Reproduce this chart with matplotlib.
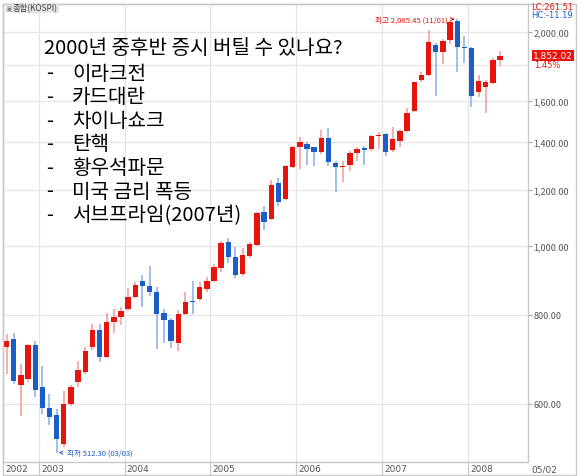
import numpy as np
import matplotlib
matplotlib.use('Agg')
import matplotlib.pyplot as plt
from matplotlib.patches import Rectangle
from matplotlib.ticker import FixedLocator, NullFormatter, NullLocator

plt.rcParams['font.family'] = ['Noto Sans CJK KR', 'DejaVu Sans']

# monthly KOSPI candles, Aug 2002 .. May 2008
months = ['2002-08', '2002-09', '2002-10', '2002-11', '2002-12',
          '2003-01', '2003-02', '2003-03', '2003-04', '2003-05', '2003-06',
          '2003-07', '2003-08', '2003-09', '2003-10', '2003-11', '2003-12',
          '2004-01', '2004-02', '2004-03', '2004-04', '2004-05', '2004-06',
          '2004-07', '2004-08', '2004-09', '2004-10', '2004-11', '2004-12',
          '2005-01', '2005-02', '2005-03', '2005-04', '2005-05', '2005-06',
          '2005-07', '2005-08', '2005-09', '2005-10', '2005-11', '2005-12',
          '2006-01', '2006-02', '2006-03', '2006-04', '2006-05', '2006-06',
          '2006-07', '2006-08', '2006-09', '2006-10', '2006-11', '2006-12',
          '2007-01', '2007-02', '2007-03', '2007-04', '2007-05', '2007-06',
          '2007-07', '2007-08', '2007-09', '2007-10', '2007-11', '2007-12',
          '2008-01', '2008-02', '2008-03', '2008-04', '2008-05']
opens = [721, 740, 637, 651, 726,
         633, 592, 579, 527, 600, 644, 666, 721, 763, 698, 783, 796,
         816, 849, 892, 878, 862, 805, 786, 731, 803, 838, 843, 871,
         894, 931, 1014, 964, 914, 968, 1004, 1116, 1092, 1227, 1165, 1291,
         1380, 1392, 1377, 1358, 1419, 1308, 1292, 1300, 1352, 1372, 1369, 1430,
         1438, 1365, 1407, 1453, 1550, 1712, 1743, 1917, 1876, 1946, 2070, 1907,
         1897, 1645, 1675, 1696, 1828]
highs = [752, 755, 683, 728, 736,
         679, 620, 590, 626, 638, 690, 721, 777, 776, 805, 816, 822,
         873, 891, 911, 939, 877, 816, 792, 813, 862, 894, 891, 904,
         944, 1018, 1026, 996, 993, 1013, 1116, 1138, 1240, 1246, 1300, 1384,
         1425, 1402, 1380, 1458, 1464, 1318, 1318, 1361, 1380, 1384, 1433, 1446,
         1443, 1469, 1461, 1562, 1703, 1755, 2013, 1930, 1955, 2075, 2085.45, 1972,
         1905, 1740, 1712, 1839, 1880]
lows = [661, 640, 577, 643, 614,
        581, 561, 512.3, 522, 595, 633, 661, 714, 688, 695, 755, 775,
        810, 845, 820, 852, 717, 730, 718, 713, 800, 803, 838, 861,
        891, 919, 946, 902, 909, 961, 1000, 1054, 1088, 1138, 1160, 1288,
        1284, 1300, 1297, 1347, 1296, 1193, 1230, 1277, 1318, 1302, 1361, 1369,
        1340, 1354, 1377, 1447, 1545, 1703, 1735, 1628, 1803, 1925, 1760, 1809,
        1567, 1621, 1537, 1690, 1793]
closes = [736, 647, 659, 725, 628,
          592, 575, 535, 600, 633, 670, 713, 761, 698, 783, 796, 811,
          849, 883, 880, 861, 803, 786, 735, 803, 835, 834, 875, 894,
          934, 1010, 966, 912, 970, 1008, 1112, 1082, 1219, 1155, 1297, 1380,
          1399, 1369, 1358, 1419, 1314, 1293, 1297, 1352, 1369, 1365, 1430, 1434,
          1358, 1415, 1453, 1539, 1699, 1740, 1934, 1873, 1944, 2065, 1907, 1897,
          1624, 1708, 1703, 1827, 1852.02]

price_ticks = [600, 800, 1000, 1200, 1400, 1600, 2000]
grid_levels = [600, 800, 1000, 1200, 1400, 1600, 1800, 2000]
years = ['2002', '2003', '2004', '2005', '2006', '2007', '2008']

title = '2000년 중후반 증시 버틸 수 있나요?'
events = ['이라크전', '카드대란', '차이나쇼크', '탄핵', '황우석파문', '미국 금리 폭등', '서브프라임(2007년)']

up_col = '#e5140d'
dn_col = '#1b5ec8'
up_wick = '#f29a96'
dn_wick = '#86aee6'
txt_gray = '#555555'
line_gray = '#c8c8c8'

W, H = 580, 477
fig = plt.figure(figsize=(W / 100, H / 100), dpi=100)
ax = fig.add_axes([3 / W, 14 / H, 525 / W, 458 / H])

x = np.arange(len(months))
o = np.array(opens, float)
h = np.array(highs, float)
l = np.array(lows, float)
c = np.array(closes, float)
up = c >= o

# year boundaries (index of January minus half a slot)
year_idx = [months.index(y + '-01') - 0.5 for y in years[1:]]

for yv in grid_levels:
    ax.axhline(yv, color='#e6e6e6', lw=0.9, zorder=0)
for xv in year_idx:
    ax.axvline(xv, color='#e6e6e6', lw=0.9, zorder=0)

ax.vlines(x[up], l[up], h[up], color=up_wick, lw=1.1, zorder=2)
ax.vlines(x[~up], l[~up], h[~up], color=dn_wick, lw=1.1, zorder=2)
bottom = np.minimum(o, c)
height = np.maximum(np.abs(c - o), bottom * 0.003)
ax.bar(x[up], height[up], bottom=bottom[up], width=0.75, color=up_col, zorder=3)
ax.bar(x[~up], height[~up], bottom=bottom[~up], width=0.75, color=dn_col, zorder=3)

ax.set_yscale('log')
ax.set_ylim(497, 2190)
ax.set_xlim(-0.5, 72.9)
ax.yaxis.set_major_locator(FixedLocator(price_ticks))
ax.yaxis.set_minor_locator(NullLocator())
ax.yaxis.set_minor_formatter(NullFormatter())
ax.set_yticklabels([f'{v:,.2f}' for v in price_ticks])
ax.yaxis.tick_right()
ax.tick_params(axis='y', direction='out', length=3, width=0.8, color='#aaaaaa',
               labelsize=6.5, labelcolor=txt_gray, pad=1)
ax.set_xticks([])
for sp in ax.spines.values():
    sp.set_color(line_gray)
    sp.set_linewidth(1.0)

# x label strip
for i, yr in enumerate(years):
    xv = -0.5 if i == 0 else year_idx[i - 1]
    ax.text(xv + 0.3, -0.004, yr, transform=ax.get_xaxis_transform(),
            ha='left', va='top', fontsize=6.5, color=txt_gray, family='DejaVu Sans')
    if i > 0:
        ax.plot([xv, xv], [0, -12 / 458], transform=ax.get_xaxis_transform(),
                color=line_gray, lw=0.9, clip_on=False)
fig.text(531 / W, 1 - 470 / H, '05/02', fontsize=6.5, color=txt_gray,
         va='center', ha='left', family='DejaVu Sans')
fig.add_artist(Rectangle((3 / W, 1 / H), 573 / W, 471 / H, fill=False,
                         edgecolor=line_gray, lw=1.0, transform=fig.transFigure))

# min / max annotations
imax = int(np.argmax(h))
imin = int(np.argmin(l))
ax.annotate(f'최고 {h[imax]:,.2f} ({months[imax][5:]}/01)', xy=(imax - 0.4, h[imax]),
            xytext=(imax - 1.3, h[imax]), ha='right', va='center', fontsize=5.5,
            color=up_col, arrowprops=dict(arrowstyle='->', color=up_col, lw=0.7))
ax.annotate(f'최저 {l[imin]:,.2f} ({months[imin][2:4]}/{months[imin][5:]})',
            xy=(imin + 0.3, l[imin]), xytext=(imin + 1.4, l[imin]), ha='left',
            va='center', fontsize=5.5, color=dn_col,
            arrowprops=dict(arrowstyle='->', color=dn_col, lw=0.7))

# right side info
fig.text(531 / W, 1 - 8 / H, 'LC:261.51', fontsize=6, color=up_col, va='center', family='DejaVu Sans')
fig.text(531 / W, 1 - 16 / H, 'HC:-11.19', fontsize=6, color=dn_col, va='center', family='DejaVu Sans')
fig.text(533 / W, 1 - 56.5 / H, f'{c[-1]:,.2f}', fontsize=6.5, color='white', va='center',
         family='DejaVu Sans',
         bbox=dict(boxstyle='square,pad=0.15', facecolor=up_col, edgecolor='none'))
fig.text(534 / W, 1 - 65 / H, '1.45%', fontsize=6, color=up_col, va='center', family='DejaVu Sans')

# top-left label
fig.text(5 / W, 1 - 9 / H, '▣', fontsize=5, color='#888888', va='center', family='DejaVu Sans')
fig.text(13 / W, 1 - 9 / H, '종합(KOSPI)', fontsize=6, color='#444444', va='center',
         bbox=dict(boxstyle='square,pad=0.1', facecolor='#e4e4e4', edgecolor='none'))

# overlaid text
fig.text(44 / W, 1 - 48 / H, title, fontsize=14.5, color='black', va='center')
for k, ev in enumerate(events):
    yy = 1 - (74 + k * 23.6) / H
    fig.text(46 / W, yy, '-', fontsize=14.5, color='black', va='center')
    fig.text(72 / W, yy, ev, fontsize=14.5, color='black', va='center')

fig.savefig('out.png', dpi=100)
